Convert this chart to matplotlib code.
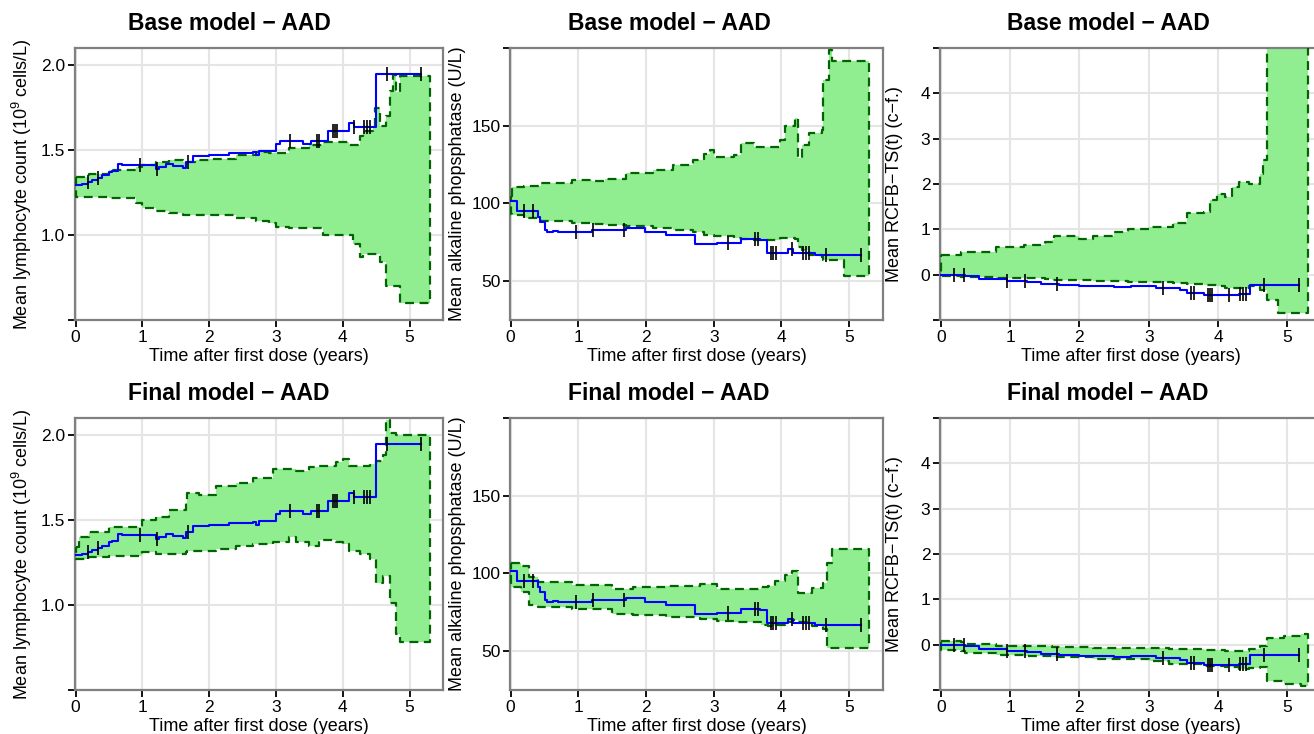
import numpy as np
import matplotlib
matplotlib.use("Agg")
import matplotlib.pyplot as plt

plt.rcParams['font.family'] = ['Liberation Sans', 'DejaVu Sans']
plt.rcParams['mathtext.fontset'] = 'custom'
plt.rcParams['mathtext.rm'] = 'Liberation Sans'

# censoring times (years), shared by all observed curves
cens_t = [0.19, 0.33, 0.96, 1.22, 1.68, 3.21, 3.61, 3.65, 3.85, 3.88, 3.92,
          4.16, 4.32, 4.36, 4.40, 4.66, 5.17]
obs_end = 5.17
band_end = 5.30

# ---- lymphocyte count ----
lym_obs_t = [0.0, 0.10, 0.18, 0.25, 0.33, 0.40, 0.50, 0.55, 0.64, 0.70, 1.20, 1.25,
             1.35, 1.45, 1.60, 1.65, 1.75, 2.00, 2.30, 2.65, 2.70, 2.75, 3.00, 3.06,
             3.40, 3.52, 3.78, 4.09, 4.16, 4.49]
lym_obs = [1.294, 1.30, 1.31, 1.325, 1.335, 1.35, 1.37, 1.375, 1.415, 1.41, 1.39, 1.40,
           1.415, 1.405, 1.395, 1.43, 1.465, 1.47, 1.48, 1.49, 1.47, 1.495, 1.535, 1.555,
           1.537, 1.553, 1.612, 1.66, 1.637, 1.95]

lym_base_t = [0.0, 0.2, 0.5, 0.9, 1.0, 1.2, 1.4, 1.6, 1.8, 2.0, 2.4, 2.7, 2.9, 3.0,
              3.2, 3.5, 3.7, 4.1, 4.15, 4.25, 4.3, 4.45, 4.48, 4.55, 4.65, 4.7, 4.75,
              4.8, 4.85]
lym_base_hi = [1.34, 1.36, 1.38, 1.40, 1.41, 1.43, 1.44, 1.43, 1.44, 1.45, 1.47, 1.49,
               1.48, 1.48, 1.51, 1.53, 1.55, 1.53, 1.53, 1.58, 1.61, 1.64, 1.75, 1.64,
               1.70, 1.85, 1.94, 1.84, 1.935]
lym_base_lo = [1.225, 1.225, 1.22, 1.19, 1.16, 1.14, 1.13, 1.12, 1.12, 1.12, 1.10, 1.08,
               1.07, 1.05, 1.04, 1.04, 1.00, 1.00, 0.95, 0.87, 0.89, 0.89, 0.89, 0.84,
               0.70, 0.70, 0.70, 0.70, 0.60]

lym_final_t = [0.0, 0.05, 0.2, 0.5, 1.0, 1.2, 1.4, 1.65, 1.67, 1.85, 2.1, 2.4, 2.65,
               2.95, 3.2, 3.3, 3.5, 3.65, 3.9, 4.0, 4.1, 4.25, 4.4, 4.5, 4.6, 4.65,
               4.7, 4.8, 4.85]
lym_final_hi = [1.34, 1.40, 1.43, 1.46, 1.50, 1.52, 1.56, 1.60, 1.66, 1.65, 1.70, 1.72,
                1.75, 1.80, 1.80, 1.79, 1.81, 1.82, 1.84, 1.86, 1.82, 1.82, 1.83, 1.85,
                1.88, 2.09, 2.01, 2.00, 2.00]
lym_final_lo = [1.27, 1.27, 1.28, 1.29, 1.31, 1.30, 1.30, 1.31, 1.32, 1.32, 1.33, 1.35,
                1.36, 1.37, 1.40, 1.37, 1.35, 1.38, 1.37, 1.36, 1.32, 1.30, 1.27, 1.13,
                1.17, 1.17, 1.01, 0.83, 0.78]

# ---- alkaline phosphatase ----
alp_obs_t = [0.0, 0.09, 0.40, 0.43, 0.50, 0.53, 0.63, 0.70, 1.10, 1.20, 1.50, 1.70,
             1.98, 2.30, 2.73, 3.05, 3.40, 3.68, 3.78, 4.10, 4.17, 4.50]
alp_obs = [101.5, 95.3, 91.4, 88.0, 83.0, 81.3, 82.4, 81.3, 81.8, 82.8, 83.2, 84.0,
           81.5, 79.6, 73.8, 74.6, 77.4, 76.3, 68.4, 71.0, 68.4, 66.7]

alp_base_t = [0.0, 0.02, 0.2, 0.45, 0.9, 1.2, 1.4, 1.7, 2.1, 2.4, 2.7, 2.85, 2.95,
              3.0, 3.3, 3.4, 3.6, 3.98, 4.05, 4.2, 4.25, 4.3, 4.4, 4.6, 4.62, 4.7,
              4.75, 4.93]
alp_base_hi = [105, 110.7, 111.5, 113, 115, 114.5, 116, 119.4, 121.5, 124.5, 128, 132,
               134.4, 130, 131, 138.7, 136.6, 141, 149.5, 154.8, 129, 137.6, 145.2,
               147.3, 179.6, 198.9, 191.4, 191.4]
alp_base_lo = [93, 92.5, 90.5, 88.5, 87.5, 87, 86, 85.5, 84.3, 83, 81.5, 80, 79.6,
               79, 78, 77.4, 76.5, 77.5, 78, 77.4, 72, 70, 67, 65.6, 63.4, 63.4,
               63.4, 53.1]

alp_final_t = [0.0, 0.15, 0.27, 0.4, 0.9, 1.5, 1.8, 2.3, 2.8, 3.05, 3.3, 3.7, 3.8,
               3.9, 4.05, 4.15, 4.25, 4.45, 4.62, 4.68, 4.75]
alp_final_hi = [107, 105, 98, 94.4, 92.5, 90, 91, 92, 93, 90, 90, 91, 92, 95, 99,
                101.5, 87.5, 90.5, 94, 107, 115.5]
alp_final_lo = [91, 88, 80, 78.5, 77, 74, 73, 72, 71, 69.5, 69, 67, 66, 67, 68.5,
                70, 69, 66, 64, 52, 52]

# ---- RCFB-TS ----
rcf_obs_t = [0.0, 0.35, 0.55, 0.95, 1.25, 1.45, 1.70, 2.00, 2.50, 2.75, 3.10, 3.45,
             3.55, 3.80, 4.30, 4.46]
rcf_obs = [-0.015, -0.04, -0.09, -0.15, -0.17, -0.20, -0.22, -0.26, -0.27, -0.26,
           -0.29, -0.33, -0.40, -0.44, -0.42, -0.22]

rcf_base_t = [0.0, 0.3, 0.8, 1.2, 1.5, 1.6, 1.63, 2.0, 2.2, 2.5, 2.7, 3.0, 3.35, 3.55,
              3.8, 3.88, 3.98, 4.1, 4.2, 4.3, 4.45, 4.6, 4.65, 4.7, 4.87]
rcf_base_hi = [0.44, 0.51, 0.60, 0.66, 0.72, 0.77, 0.85, 0.78, 0.86, 0.95, 1.01, 1.06,
               1.13, 1.35, 1.39, 1.64, 1.79, 1.72, 1.93, 2.04, 2.00, 2.23, 2.52, 5.2, 5.2]
rcf_base_lo = [-0.04, -0.05, -0.07, -0.08, -0.10, -0.11, -0.11, -0.12, -0.13, -0.15,
               -0.16, -0.17, -0.18, -0.20, -0.22, -0.22, -0.24, -0.29, -0.30, -0.30,
               -0.26, -0.33, -0.33, -0.55, -0.84]

rcf_final_t = [0.0, 0.3, 0.35, 0.8, 1.2, 1.6, 2.2, 3.0, 3.3, 3.8, 4.1, 4.3, 4.45, 4.6,
               4.7, 4.95, 5.2]
rcf_final_hi = [0.08, 0.06, 0.02, -0.02, -0.04, -0.06, -0.07, -0.08, -0.09, -0.12,
                -0.14, -0.14, -0.10, -0.04, 0.15, 0.19, 0.23]
rcf_final_lo = [-0.12, -0.15, -0.18, -0.22, -0.25, -0.28, -0.32, -0.37, -0.43, -0.47,
                -0.50, -0.54, -0.52, -0.50, -0.80, -0.87, -0.91]

ylab_lym = 'Mean lymphocyte count (10$^9$ cells/L)'
ylab_alp = 'Mean alkaline phopsphatase (U/L)'
ylab_rcf = 'Mean RCFB\u2212TS(t) (c\u2212f.)'
xlab = 'Time after first dose (years)'


def stairs(t, v, t_end):
    xs = np.repeat(np.append(t, t_end), 2)[1:-1]
    ys = np.repeat(v, 2)
    return xs, ys


def draw_panel(ax, obs_t, obs, bt, lo, hi, ylim, yticks, ylabels, ylab, ylab_x):
    xu, yu = stairs(bt, hi, band_end)
    xl, yl = stairs(bt, lo, band_end)
    px = np.concatenate([xu, xl[::-1], xu[:1]])
    py = np.concatenate([yu, yl[::-1], yu[:1]])
    ax.fill(px, py, color='#90EE90', lw=0, zorder=2)
    ax.plot(px, py, color='#006400', lw=1.6, ls=(0, (4, 2.5)), zorder=3)
    ox, oy = stairs(obs_t, obs, obs_end)
    ax.plot(ox, oy, color='#0000FF', lw=1.5, zorder=4)
    idx = np.searchsorted(obs_t, cens_t, side='right') - 1
    ax.plot(cens_t, np.array(obs)[idx], ls='none', marker='|', ms=10, mew=1.2,
            color='black', zorder=5)
    ax.set_xlim(-0.01, 5.5)
    ax.set_ylim(*ylim)
    ax.set_xticks([0, 1, 2, 3, 4, 5])
    ax.set_yticks(yticks)
    ax.set_yticklabels(ylabels)
    ax.grid(True, color='#E5E5E5', lw=1.5, zorder=0)
    ax.set_axisbelow(True)
    for s in ax.spines.values():
        s.set_color('#808080')
        s.set_linewidth(1.6)
    ax.tick_params(labelsize=12.5, length=5, width=1.3, color='black', pad=2)
    ax.set_xlabel(xlab, fontsize=13)
    ax.xaxis.set_label_coords(0.5, -0.135)
    ax.xaxis.label.set_va('center')
    ax.set_ylabel(ylab, fontsize=13)
    ax.yaxis.set_label_coords(ylab_x, 0.5)
    ax.yaxis.label.set_va('center')


W, H = 1314, 734
fig = plt.figure(figsize=(W / 100, H / 100), dpi=100)

cols = [(75, 368), (510, 373), (940, 382)]
rows = [(48, 272), (418, 272)]


def make_ax(c, r):
    left, w = cols[c]
    top, h = rows[r]
    return fig.add_axes([left / W, (H - top - h) / H, w / W, h / H])


lym_args = ((0.5, 2.1), [0.5, 1.0, 1.5, 2.0], ['', '1.0', '1.5', '2.0'], ylab_lym, -0.144)
alp_args = ((25, 200), [50, 100, 150, 200], ['50', '100', '150', ''], ylab_alp, -0.142)
rcf_args = ((-1, 5), [-1, 0, 1, 2, 3, 4, 5], ['', '0', '1', '2', '3', '4', ''], ylab_rcf, -0.118)

draw_panel(make_ax(0, 0), lym_obs_t, lym_obs, lym_base_t, lym_base_lo, lym_base_hi, *lym_args)
draw_panel(make_ax(1, 0), alp_obs_t, alp_obs, alp_base_t, alp_base_lo, alp_base_hi, *alp_args)
draw_panel(make_ax(2, 0), rcf_obs_t, rcf_obs, rcf_base_t, rcf_base_lo, rcf_base_hi, *rcf_args)
draw_panel(make_ax(0, 1), lym_obs_t, lym_obs, lym_final_t, lym_final_lo, lym_final_hi, *lym_args)
draw_panel(make_ax(1, 1), alp_obs_t, alp_obs, alp_final_t, alp_final_lo, alp_final_hi, *alp_args)
draw_panel(make_ax(2, 1), rcf_obs_t, rcf_obs, rcf_final_t, rcf_final_lo, rcf_final_hi, *rcf_args)

title_x = [229, 669, 1108]
for i, x in enumerate(title_x):
    fig.text(x / W, 1 - 23 / H, 'Base model \u2212 AAD', ha='center', va='center',
             fontsize=16.5, fontweight='bold')
    fig.text(x / W, 1 - 393 / H, 'Final model \u2212 AAD', ha='center', va='center',
             fontsize=16.5, fontweight='bold')

fig.savefig('out.png', dpi=100)
